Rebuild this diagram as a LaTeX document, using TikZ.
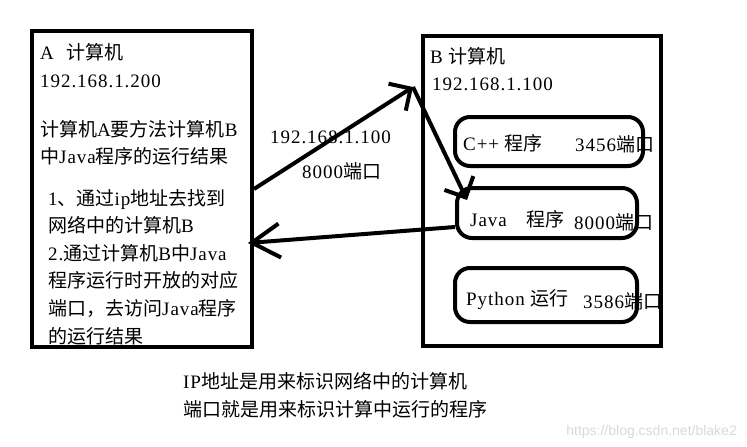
\documentclass[tikz,border=0pt]{standalone}
\usepackage{fontspec}
\setmainfont{Liberation Serif}[LetterSpace=5]
\newfontfamily\cjk{Noto Sans CJK SC}
\newfontfamily\wmfont{Liberation Sans}
\usetikzlibrary{arrows.meta,positioning,calc}
\newcommand\zh[1]{{\cjk #1}}
\tikzset{
  kasten/.style={draw,line width=4pt,inner sep=0pt},
  prog/.style={draw,line width=4pt,rounded corners=15pt,inner sep=0pt},
  txt/.style={anchor=base west,inner sep=0pt},
  pfeil/.style={line width=4pt,-{Straight Barb[length=16pt,width=32pt]}},
}

\begin{document}
\begin{tikzpicture}[x=1pt,y=-1pt,font=\fontsize{19}{27.6}\selectfont]
  \useasboundingbox (0,0) rectangle (747,447);
  % Rechner A
  \node[txt] (a1) at (40,59) {A\hspace{13pt}\zh{计算机}};
  \node[txt] (a2) at (40,87) {192.168.1.200};
  \node[txt] (a3) at (40,136.5) {\zh{计算机}A\zh{要方法计算机}B};
  \node[txt] (a4) at (40,163) {\zh{中}Java\zh{程序的运行结果}};
  \node[txt] (a5) at (48,205) {1\zh{、通过}ip\zh{地址去找到}};
  \node[txt] (a6) at (48,232) {\zh{网络中的计算机}B};
  \node[txt] (a7) at (48,260) {2.\zh{通过计算机}B\zh{中}Java};
  \node[txt] (a8) at (48,287) {\zh{程序运行时开放的对应}};
  \node[txt] (a9) at (48,315) {\zh{端口，去访问}Java\zh{程序}};
  \node[txt] (a10) at (48,343) {\zh{的运行结果}};
  \node[kasten,minimum width=220pt,minimum height=316pt] (rechnerA) at (142,189) {};
  % Rechner B
  \node[kasten,minimum width=238pt,minimum height=310pt] (rechnerB) at (542,191) {};
  \node[txt] (b1) at (430,63) {B \zh{计算机}};
  \node[txt] (b2) at (432,90) {192.168.1.100};
  \node[prog,minimum width=188pt,minimum height=49pt] (cpp) at (549,141.5) {};
  \node[prog,minimum width=180pt,minimum height=50pt] (java) at (547,213) {};
  \node[prog,minimum width=182pt,minimum height=54pt] (python) at (546,295) {};
  \node[txt] (cppname) at (463,150) {C++ \zh{程序}};
  \node[txt] (cppport) at (575,151) {3456\zh{端口}};
  \node[txt] (javaname) at (470,226) {Java\hspace{20pt}\zh{程序}};
  \node[txt] (javaport) at (574,229) {8000\zh{端口}};
  \node[txt] (pyname) at (466,305) {Python \zh{运行}};
  \node[txt] (pyport) at (583,308) {3586\zh{端口}};
  % Verbindung
  \node[txt] (ip) at (270,143) {192.168.1.100};
  \node[txt] (port) at (302,178) {8000\zh{端口}};
  \coordinate (knick) at (413,87);
  \coordinate (ein) at (248,243);
  \draw[pfeil] (rechnerA.east) -- (knick);
  \draw[pfeil] (knick) -- ($(java.north west)+(12,14)$);
  \draw[pfeil,-{Straight Barb[length=28pt,width=34pt]}] ($(java.west)+(0,14)$) -- (ein);
  % Erklaerung
  \node[txt] (z1) at (183,388) {IP\zh{地址是用来标识网络中的计算机}};
  \node[txt] (z2) at (183,416) {\zh{端口就是用来标识计算中运行的程序}};
  \node[anchor=base east,inner sep=0pt,text=black!15,font=\wmfont\fontsize{14}{16}\selectfont] (wm) at (737,435) {https://blog.csdn.net/blake2};
\end{tikzpicture}
\end{document}
